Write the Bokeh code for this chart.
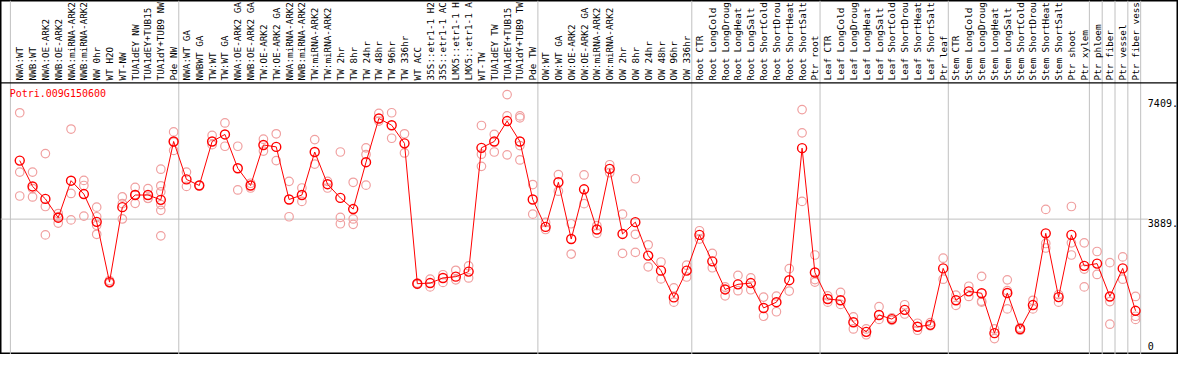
import math
from bokeh.plotting import figure
from bokeh.models import Range1d
from bokeh.core.properties import value
from bokeh.embed import file_html
from bokeh.resources import INLINE

gene = "Potri.009G150600"

labels = [
    "NWA:WT", "NWB:WT", "NWA:OE-ARK2", "NWB:OE-ARK2", "NWA:miRNA-ARK2", "NWB:miRNA-ARK2",
    "NW 0hr", "WT H2O", "WT-NW", "TUA1dEY NW", "TUA1dEY+TUB15", "TUA1dY+TUB9 NW", "Pde NW",
    "NWA:WT GA", "NWBWT GA", "TW:WT", "TW:WT GA", "NWA:OE-ARK2 GA", "NWB:OE-ARK2 GA",
    "TW:OE-ARK2", "TW:OE-ARK2 GA", "NWA:miRNA-ARK2", "NWB:miRNA-ARK2", "TW:miRNA-ARK2",
    "TW:miRNA-ARK2", "TW 2hr", "TW 8hr", "TW 24hr", "TW 48hr", "TW 96hr", "TW 336hr",
    "WT ACC", "35S::etr1-1 H2", "35S::etr1-1 AC", "LMX5::etr1-1 H", "LMX5::etr1-1 A",
    "WT-TW", "TUA1dEY TW", "TUA1dEY+TUB15", "TUA1dY+TUB9 TW", "Pde TW",
    "OW:WT", "OW:WT GA", "OW:OE-ARK2", "OW:OE-ARK2 GA", "OW:miRNA-ARK2", "OW:miRNA-ARK2",
    "OW 2hr", "OW 8hr", "OW 24hr", "OW 48hr", "OW 96hr", "OW 336hr",
    "Root CTR", "Root LongCold", "Root LongDroug", "Root LongHeat", "Root LongSalt",
    "Root ShortCold", "Root ShortDrou", "Root ShortHeat", "Root ShortSalt", "Ptr root",
    "Leaf CTR", "Leaf LongCold", "Leaf LongDroug", "Leaf LongHeat", "Leaf LongSalt",
    "Leaf ShortCold", "Leaf ShortDrou", "Leaf ShortHeat", "Leaf ShortSalt", "Ptr leaf",
    "Stem CTR", "Stem LongCold", "Stem LongDroug", "Stem LongHeat", "Stem LongSalt",
    "Stem ShortCold", "Stem ShortDrou", "Stem ShortHeat", "Stem ShortSalt", "Ptr shoot",
    "Ptr xylem", "Ptr phloem", "Ptr fiber", "Ptr vessel", "Ptr fiber vess",
]

means = [
    5607, 4848, 4483, 3931, 5017, 4624, 3809, 2040, 4240, 4596, 4596, 4455, 6168,
    5054, 4876, 6168, 6374, 5382, 4876, 6065, 6009, 4465, 4596, 5859, 4914, 4511,
    4184, 5560, 6842, 6645, 6112, 1994, 2012, 2162, 2200, 2349, 5981, 6168, 6767,
    6168, 4465, 3660, 4970, 3304, 4764, 3585, 5363, 3454, 3800, 2817, 2377, 1591,
    2377, 3426, 2649, 1825, 1975, 2012, 1282, 1451, 2097, 5972, 2321, 1544, 1507,
    861, 580, 1076, 955, 1226, 730, 786, 2443, 1507, 1769, 1713, 543, 1722, 665,
    1367, 3472, 1600, 3426, 2518, 2583, 1619, 2443, 1198,
]

reps = [
    [7010, 5270, 4568], [5270, 4783, 4539], [5812, 4259, 3426], [4053, 3772, 3960],
    [6533, 4642, 3866], [5026, 4876, 3978], [4240, 3959, 3706, 3444], [2087, 2022, 2010],
    [4539, 4343, 3894], [4820, 4352, 4610], [4783, 4502, 4500],
    [5354, 4867, 4689, 4315, 4146, 3398], [6449, 5906, 6150],
    [5270, 4848], [4876, 4880], [6346, 6074], [6711, 6028], [6028, 4745], [4942, 4802],
    [6234, 5887], [6393, 5607], [4998, 3959], [4802, 4408], [6224, 5504], [4998, 4802],
    [5859, 3940, 3753], [4970, 3894, 3735], [5981, 5784, 4886], [6992, 6767],
    [7010, 6262], [6393, 5831], [1975, 2012], [2125, 1900], [2256, 2031], [2387, 2106],
    [2518, 2162], [6636, 5794, 5438], [6374, 5859], [7544, 6917, 5775],
    [6917, 6861, 6046, 5625], [4904, 4034],
    [3791, 3585], [5195, 4708], [3753, 2864], [5185, 4343], [3697, 3472], [5485, 5251],
    [4034, 2883], [5073, 3444, 2911], [3136, 2490], [2630, 2134], [1872, 1451],
    [2536, 2190],
    [3547, 3304], [2883, 2462], [1900, 1638], [2237, 1788], [2162, 1816], [1600, 1039],
    [1629, 1170], [2434, 1778], [7104, 6421, 4408], [2836, 2115, 2040],
    [1638, 1451], [1741, 1385], [1020, 665], [496, 665], [1320, 945], [992, 917],
    [1376, 1104], [627, 833], [852, 758], [2742, 2125],
    [1657, 1357], [1919, 1619], [2209, 1451, 1480], [665, 384], [2106, 1788, 1254],
    [702, 627], [1507, 1254], [4174, 3173, 3042], [1675, 1451], [4259, 3192, 2836],
    [3192, 2424, 1900], [2939, 2265], [2611, 1469, 805], [2780, 2125],
    [1619, 1039, 945],
]

tick_values = [7409, 3889]
tick_labels = ["7409.", "3889."]
zero_label = "0"
group_ends = [13, 41, 53, 63, 73, 84, 85, 86, 87, 88]

# ---- layout (reference pixel geometry mapped to data units) ----
W, H = 1178, 354
X0, X1 = -0.5, 91.35
Y0, Y1 = -84.2, 10305
MONO = value("DejaVu Sans Mono")

p = figure(width=W, height=H, output_backend="svg", toolbar_location=None,
           x_range=Range1d(X0, X1), y_range=Range1d(Y0, Y1),
           x_axis_location=None, y_axis_location=None,
           min_border=0, min_border_left=0, min_border_right=0,
           min_border_top=0, min_border_bottom=0)
p.grid.visible = False
p.outline_line_color = "black"
p.outline_line_width = 2
p.background_fill_color = "white"
p.border_fill_color = "white"

idx = list(range(1, len(labels) + 1))

# vertical group separators
vx = [0.27] + [e + 0.4 for e in group_ends]
p.segment(x0=vx, x1=vx, y0=[Y0] * len(vx), y1=[Y1] * len(vx),
          line_color="#c0c0c0", line_width=1)

# horizontal reference line
p.segment(x0=[X0], x1=[88.96], y0=[tick_values[1]], y1=[tick_values[1]],
          line_color="#c0c0c0", line_width=1)

# separator between labels and plot
p.segment(x0=[X0], x1=[X1], y0=[7890], y1=[7890], line_color="black", line_width=1.2)

# column labels (rotated)
p.text(x=idx, y=[7960] * len(idx), text=labels, angle=math.pi / 2,
       text_align="left", text_baseline="middle", text_font=MONO,
       text_font_size="9.3px", text_color="black")

# replicates
rx, ry = [], []
for i, r in zip(idx, reps):
    for v in r:
        rx.append(i)
        ry.append(v)
p.scatter(x=rx, y=ry, marker="circle", size=8.5, fill_color=None,
          line_color="#f0a0a0", line_width=1.2)

# means
p.line(x=idx, y=means, line_color="red", line_width=1)
p.scatter(x=idx, y=means, marker="circle", size=9, fill_color=None,
          line_color="red", line_width=1.4)

# title
p.text(x=[0.215], y=[7590], text=[gene], text_align="left", text_baseline="middle",
       text_font=MONO, text_font_size="10px", text_color="red")

# right-hand scale labels
p.text(x=[88.96] * len(tick_values), y=tick_values, text=tick_labels,
       text_align="left", text_baseline="top", text_font=MONO,
       text_font_size="10px", text_color="black")
p.text(x=[88.96], y=[0], text=[zero_label], text_align="left", text_baseline="bottom",
       y_offset=-2, text_font=MONO, text_font_size="10px", text_color="black")

open("out.html", "w").write(file_html(p, INLINE))
